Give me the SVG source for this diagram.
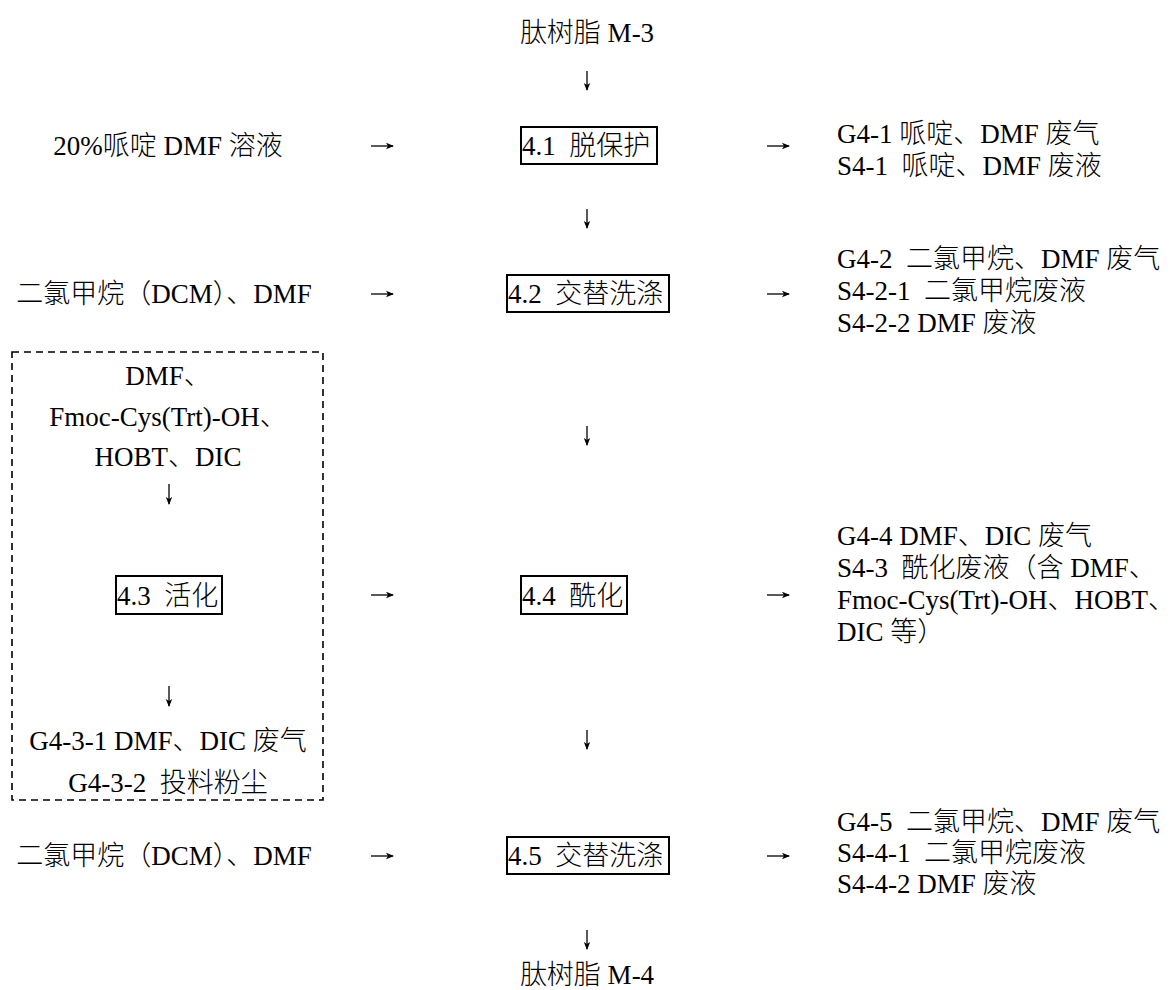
<svg xmlns="http://www.w3.org/2000/svg" width="1175" height="990" viewBox="0 0 1175 990">
<style>
  text { font-family: "Liberation Serif", "Noto Sans CJK SC", serif; font-size: 27px; font-weight: 300; fill: #000; white-space: pre; }
  .c { text-anchor: middle; }
  .box { fill: none; stroke: #000; stroke-width: 2; }
  .dash { fill: none; stroke: #000; stroke-width: 1.6; stroke-dasharray: 7 5; }
  .ar { stroke: #000; stroke-width: 1.3; fill: none; }
</style>
<defs>
  <marker id="ah" viewBox="0 -4 8 8" refX="7" refY="0" markerWidth="8" markerHeight="8" markerUnits="userSpaceOnUse" orient="auto">
    <path d="M0,-3.2 L8,0 L0,3.2 L2,0 z" fill="#000"/>
  </marker>
</defs>
<rect width="1175" height="990" fill="#fff"/>

<g id="connectors">
  <line class="ar" x1="587" y1="71" x2="587" y2="90" marker-end="url(#ah)"/>
  <line class="ar" x1="587" y1="209" x2="587" y2="228" marker-end="url(#ah)"/>
  <line class="ar" x1="587" y1="426" x2="587" y2="445" marker-end="url(#ah)"/>
  <line class="ar" x1="587" y1="730" x2="587" y2="749" marker-end="url(#ah)"/>
  <line class="ar" x1="587" y1="930" x2="587" y2="949" marker-end="url(#ah)"/>
  <line class="ar" x1="169" y1="484" x2="169" y2="504" marker-end="url(#ah)"/>
  <line class="ar" x1="169" y1="686" x2="169" y2="706" marker-end="url(#ah)"/>
  <line class="ar" x1="371" y1="146" x2="393" y2="146" marker-end="url(#ah)"/>
  <line class="ar" x1="371" y1="294" x2="393" y2="294" marker-end="url(#ah)"/>
  <line class="ar" x1="371" y1="595" x2="393" y2="595" marker-end="url(#ah)"/>
  <line class="ar" x1="371" y1="856" x2="393" y2="856" marker-end="url(#ah)"/>
  <line class="ar" x1="767" y1="146" x2="789" y2="146" marker-end="url(#ah)"/>
  <line class="ar" x1="767" y1="294" x2="789" y2="294" marker-end="url(#ah)"/>
  <line class="ar" x1="767" y1="595" x2="789" y2="595" marker-end="url(#ah)"/>
  <line class="ar" x1="767" y1="856" x2="789" y2="856" marker-end="url(#ah)"/>
</g>

<g id="m3"><text class="c" x="587" y="42">肽树脂 M-3</text></g>

<g id="step41">
  <rect class="box" x="521" y="127" width="136" height="37"/>
  <text x="522" y="155">4.1  脱保护</text>
</g>
<g id="in41"><text class="c" x="168" y="155">20%哌啶 DMF 溶液</text></g>
<g id="out41">
  <text x="837" y="143">G4-1 哌啶、DMF 废气</text>
  <text x="837" y="175">S4-1  哌啶、DMF 废液</text>
</g>

<g id="step42">
  <rect class="box" x="507" y="275" width="162" height="37"/>
  <text x="508" y="303">4.2  交替洗涤</text>
</g>
<g id="in42"><text class="c" x="164" y="303">二氯甲烷（DCM）、DMF</text></g>
<g id="out42">
  <text x="837" y="268">G4-2  二氯甲烷、DMF 废气</text>
  <text x="837" y="300">S4-2-1  二氯甲烷废液</text>
  <text x="837" y="332">S4-2-2 DMF 废液</text>
</g>

<g id="activation">
  <rect class="dash" x="12" y="352" width="311" height="448"/>
  <text class="c" x="168" y="385">DMF、</text>
  <text class="c" x="168" y="426">Fmoc-Cys(Trt)-OH、</text>
  <text class="c" x="168" y="466">HOBT、DIC</text>
  <g id="step43">
    <rect class="box" x="116" y="576" width="106" height="38"/>
    <text x="117" y="605">4.3  活化</text>
  </g>
  <text class="c" x="168" y="750">G4-3-1 DMF、DIC 废气</text>
  <text class="c" x="168" y="792">G4-3-2  投料粉尘</text>
</g>

<g id="step44">
  <rect class="box" x="521" y="576" width="106" height="38"/>
  <text x="522" y="605">4.4  酰化</text>
</g>
<g id="out44">
  <text x="837" y="545">G4-4 DMF、DIC 废气</text>
  <text x="837" y="577">S4-3  酰化废液（含 DMF、</text>
  <text x="837" y="609">Fmoc-Cys(Trt)-OH、HOBT、</text>
  <text x="837" y="641">DIC 等）</text>
</g>

<g id="step45">
  <rect class="box" x="507" y="837" width="162" height="37"/>
  <text x="508" y="865">4.5  交替洗涤</text>
</g>
<g id="in45"><text class="c" x="164" y="865">二氯甲烷（DCM）、DMF</text></g>
<g id="out45">
  <text x="837" y="831">G4-5  二氯甲烷、DMF 废气</text>
  <text x="837" y="862">S4-4-1  二氯甲烷废液</text>
  <text x="837" y="893">S4-4-2 DMF 废液</text>
</g>

<g id="m4"><text class="c" x="587" y="984">肽树脂 M-4</text></g>
</svg>
